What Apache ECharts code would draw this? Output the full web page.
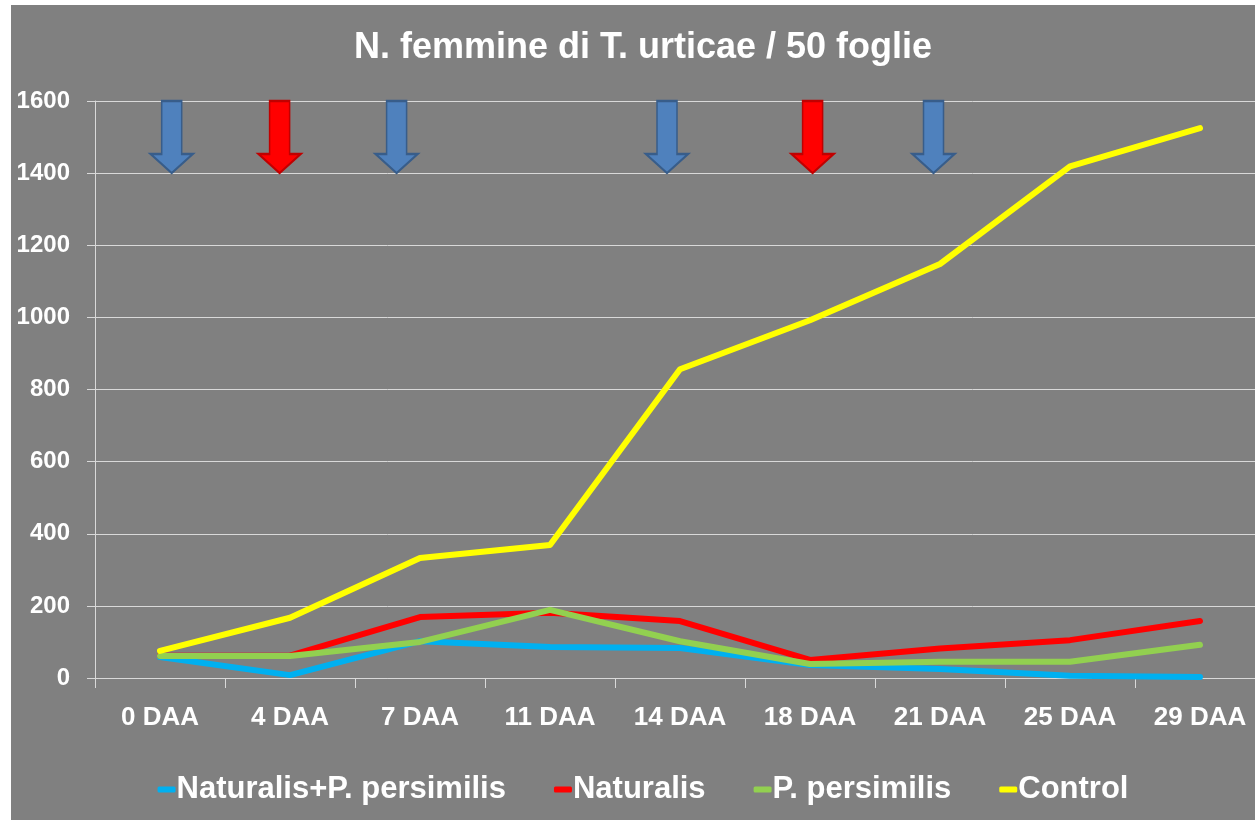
<!DOCTYPE html>
<html>
<head>
<meta charset="utf-8">
<script src="https://cdn.jsdelivr.net/npm/echarts@6/dist/echarts.min.js"></script>
<style>
  html, body { margin: 0; padding: 0; background: #ffffff; }
  #wrap { position: absolute; left: 11px; top: 5px; width: 1244px; height: 815px; background: #808080; overflow: hidden; }
  #main { position: absolute; left: 0; top: 0; width: 1264px; height: 815px; }
</style>
</head>
<body>
<div id="wrap"><div id="main"></div></div>
<script>
// days after application
var days = ['0 DAA', '4 DAA', '7 DAA', '11 DAA', '14 DAA', '18 DAA', '21 DAA', '25 DAA', '29 DAA'];

var naturalisPersimilis = [58, 8, 102, 86, 83, 36, 25, 6, 3];
var naturalis = [62, 62, 169, 181, 158, 50, 82, 105, 158];
var persimilis = [61, 61, 100, 189, 102, 39, 45, 45, 92];
var control = [75, 167, 333, 369, 856, 992, 1148, 1419, 1525];

var yTicks = [0, 200, 400, 600, 800, 1000, 1200, 1400, 1600];

// treatment arrows, position in category units
var blueArrows = [0.09, 1.82, 3.9, 5.95];
var redArrows = [0.92, 5.02];
var arrowLevel = 1500;

var arrowPath = 'path://M11 0 L31 0 L31 53 L42 53 L21 72 L0 53 L11 53 Z';
var font = 'Liberation Sans, Arial, sans-serif';

function lineSeries(name, data, color) {
  return {
    name: name,
    type: 'line',
    data: data,
    symbol: 'none',
    color: color,
    lineStyle: { width: 6, color: color, cap: 'round', join: 'round' },
    z: 3
  };
}

function arrowSeries(name, xs, fill, stroke) {
  return {
    name: name,
    type: 'scatter',
    xAxisIndex: 1,
    symbol: arrowPath,
    symbolSize: [42, 72],
    data: xs.map(function (x) { return [x, arrowLevel]; }),
    itemStyle: { color: fill, borderColor: stroke, borderWidth: 2, opacity: 1 },
    z: 4,
    silent: true
  };
}

var chart = echarts.init(document.getElementById('main'));
chart.setOption({
  backgroundColor: '#808080',
  animation: false,
  title: {
    text: 'N. femmine di T. urticae / 50 foglie',
    left: 'center',
    top: 20,
    textStyle: { color: '#ffffff', fontSize: 36, fontWeight: 'bold', fontFamily: font }
  },
  legend: {
    data: ['Naturalis+P. persimilis', 'Naturalis', 'P. persimilis', 'Control'],
    bottom: 10,
    left: 'center',
    icon: 'roundRect',
    itemWidth: 18,
    itemHeight: 6,
    itemGap: 48,
    textStyle: { color: '#ffffff', fontSize: 31, fontWeight: 'bold', fontFamily: font, padding: [0, 0, 0, -4] }
  },
  grid: { left: 84, right: 10, top: 96, bottom: 142, containLabel: false },
  xAxis: [{
    type: 'category',
    data: days,
    boundaryGap: true,
    axisLine: { show: true, lineStyle: { color: '#d9d9d9', width: 1 } },
    axisTick: { show: true, length: 10, interval: 0, lineStyle: { color: '#d9d9d9' } },
    axisLabel: { color: '#ffffff', fontSize: 26, fontWeight: 'bold', fontFamily: font, margin: 27, interval: 0 },
    splitLine: { show: false }
  }, {
    type: 'value',
    min: -0.5,
    max: 8.5,
    show: false
  }],
  yAxis: {
    type: 'value',
    min: 0,
    max: 1600,
    interval: 200,
    axisLine: { show: true, onZero: false, lineStyle: { color: '#d9d9d9', width: 1 } },
    axisTick: { show: true, length: 8, lineStyle: { color: '#d9d9d9' } },
    axisLabel: {
      color: '#ffffff', fontSize: 24, fontWeight: 'bold', fontFamily: font, margin: 25,
      formatter: function (v) { return yTicks.indexOf(v) >= 0 ? String(v) : ''; }
    },
    splitLine: { show: true, lineStyle: { color: '#d9d9d9', width: 1 } }
  },
  series: [
    lineSeries('Naturalis+P. persimilis', naturalisPersimilis, '#00b0f0'),
    lineSeries('Naturalis', naturalis, '#ff0000'),
    lineSeries('P. persimilis', persimilis, '#92d050'),
    lineSeries('Control', control, '#ffff00'),
    arrowSeries('blue arrows', blueArrows, '#4f81bd', '#385d8a'),
    arrowSeries('red arrows', redArrows, '#ff0000', '#c00000')
  ]
});
</script>
</body>
</html>
